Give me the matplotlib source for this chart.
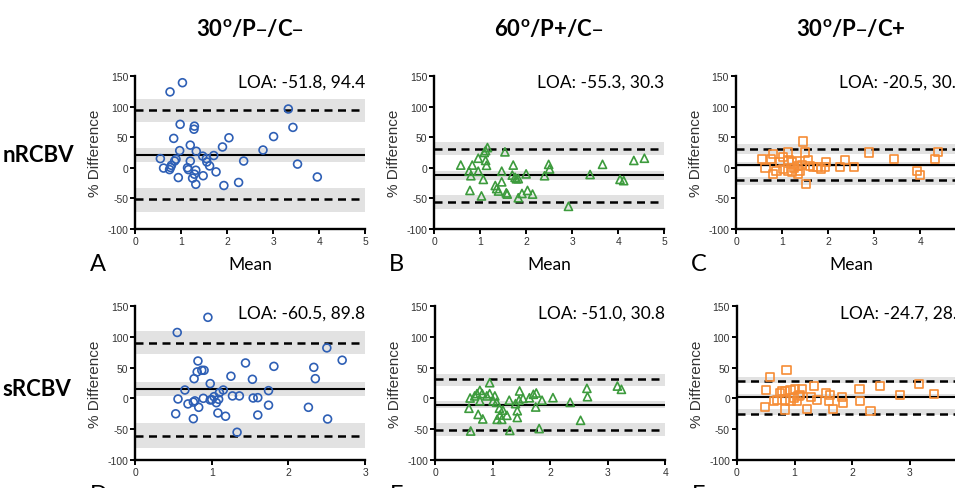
import numpy as np
import matplotlib.pyplot as plt

plt.rcParams['axes.unicode_minus'] = False

# column / row headings
col_titles = ['30$^{\\mathregular{o}}$/P–/C–', '60$^{\\mathregular{o}}$/P+/C–', '30$^{\\mathregular{o}}$/P–/C+']
row_titles = ['nRCBV', 'sRCBV']
letters = ['A', 'B', 'C', 'D', 'E', 'F']

# A: nRCBV 30/P-/C-
a_x = [1.03, 0.76, 3.33, 3.43, 0.98, 1.29, 1.28, 0.84, 2.04, 3.01, 1.20, 1.90, 0.97, 1.33, 2.78,
       0.55, 0.89, 0.86, 1.20, 1.47, 1.55, 1.71, 1.56, 1.62, 2.36, 3.53, 0.62, 0.75, 0.77, 1.14,
       1.16, 1.32, 1.29, 1.48, 1.76, 0.94, 1.25, 1.32, 1.93, 2.25, 3.96, 0.79]
a_y = [139, 124, 96, 66, 71, 68, 63, 48, 49, 51, 37, 34, 28, 27, 29,
       15, 14, 11, 11, 19, 15, 20, 9.5, 3, 11, 6, -0.5, -3, 0.5, 0,
       -3, -4, -10.5, -13, -6.7, -16, -17, -27, -29, -24, -15, 4]
a_loa = [-51.8, 94.4]
a_bands = [(75, 113), (9.5, 32), (-33, -72)]

# B: nRCBV 60/P+/C-
b_x = [0.58, 0.83, 0.96, 1.09, 1.16, 1.12, 1.12, 1.14, 1.54, 0.76, 0.80, 0.96, 1.07, 1.47, 1.72,
       1.70, 1.76, 1.83, 2.00, 2.49, 2.51, 2.40, 0.78, 1.03, 1.33, 1.36, 1.47, 1.40, 1.57, 1.59,
       1.83, 1.91, 2.03, 2.14, 2.92, 3.39, 3.66, 4.04, 4.12, 4.34, 4.57, 1.79]
b_y = [4.4, 4.4, 15.6, 25, 33, 28, 12, 4, 26, -5.6, -13, -5.6, -19, -5.6, 4.4,
       -12, -15.6, -17.8, -10, 5.5, -2, -13, -37, -46, -29, -34, -23, -38, -41, -43,
       -49, -42, -37, -43, -63, -11, 5.6, -19, -21, 12, 15.6, -18]
b_loa = [-55.3, 30.3]
b_bands = [(21, 42), (-4.5, -19.5), (-45, -67)]

# C: nRCBV 30/P-/C+
c_x = [1.45, 0.57, 0.80, 0.76, 0.64, 0.80, 0.96, 1.03, 1.12, 1.14, 1.21, 1.03, 1.12, 1.21, 1.26,
       1.35, 1.39, 1.50, 1.57, 1.61, 1.68, 1.77, 1.84, 1.93, 1.96, 1.52, 2.25, 2.37, 2.57, 2.88,
       3.43, 3.94, 3.99, 4.32, 4.38, 1.35, 0.88, 1.32, 1.43]
c_y = [43, 14, 22, 15, -0.4, -10, 9, 17, 25, 13, 9, -2, -6, -7.5, -1,
       3.4, -4.8, 25, 13, 3.4, 0.6, 0.6, -2, 0.6, 10, -26, 0.6, 13, 0.6, 25,
       14, -4.8, -12, 14, 26, -10, -4.8, 11, 4]
c_loa = [-20.5, 30.9]
c_bands = [(22, 38.5), (1.7, 8.8), (-14.5, -27.5)]

# D: sRCBV 30/P-/C-
d_x = [0.95, 0.55, 2.50, 2.70, 0.82, 1.44, 1.81, 2.33, 0.81, 0.87, 0.90, 0.77, 1.25, 1.53, 2.35,
       0.98, 0.65, 1.15, 1.74, 1.10, 0.56, 0.89, 0.98, 1.03, 1.09, 1.27, 1.36, 1.54, 1.60, 0.69,
       0.78, 0.76, 0.83, 1.06, 1.74, 0.53, 0.76, 1.08, 1.18, 1.60, 2.26, 2.51, 1.33, 1.00]
d_y = [131.6, 107, 82, 62, 60.7, 57.5, 52, 50.4, 43, 45.6, 45.6, 32, 36, 31, 32,
       24, 13.6, 13.6, 12.6, 9.3, -1, 0.1, -2.6, 2.8, -1.5, 4, 4, 0.6, 1.2, -9,
       -4, -6, -14.5, -7, -11, -25, -33, -23.7, -29, -27, -14.5, -33.5, -55, -2]
d_loa = [-60.5, 89.8]
d_bands = [(71.5, 109), (4, 26.6), (-40, -80)]

# E: sRCBV 60/P+/C-
e_x = [0.95, 0.61, 0.59, 0.62, 0.69, 0.73, 0.78, 0.82, 0.78, 0.90, 0.95, 1.04, 1.01, 1.07, 1.12,
       1.18, 1.25, 1.13, 1.08, 1.16, 0.75, 0.83, 1.30, 1.43, 1.43, 1.40, 1.46, 1.47, 1.53, 1.64,
       1.71, 1.76, 1.75, 1.86, 2.05, 1.81, 2.35, 2.53, 2.64, 2.65, 3.17, 3.24, 1.29]
e_y = [25.5, 0.6, -16, -53, 4, 7.7, 13, 7.7, -4, 4, 7.7, 4, -4, -6.4, -16,
       -19, -27.5, -27, -34, -34, -26, -33.4, -52, -31, -20, -8.5, -3, 12, 0, 1,
       6.6, 8.8, -14, -3, 1.2, -49, -6.4, -35.6, 16.3, 2.8, 20, 14.7, -3]
e_loa = [-51.0, 30.8]
e_bands = [(20, 40), (-4, -15), (-40.5, -61)]

# F: sRCBV 30/P-/C+
f_x = [0.86, 0.58, 0.50, 0.48, 0.64, 0.70, 0.78, 0.84, 0.93, 1.01, 1.13, 0.84, 0.93, 1.04, 1.07,
       0.84, 1.21, 1.34, 1.28, 1.39, 1.54, 1.61, 1.60, 1.67, 1.83, 1.84, 2.13, 2.14, 2.32, 2.48,
       2.84, 3.16, 3.43, 0.75, 0.99, 1.10]
f_y = [45.6, 34, 14, -14.5, -4.8, -2.6, 11.5, 12.6, 14, 15.8, 15.8, -2, -4.8, -3.7, 3.4,
       -18, -17.7, 19.6, 1.7, -2, 8.8, 6, -4.8, -16.7, 1.7, -7.5, 15.3, -3.7, -20, 20,
       5, 24, 7.7, 8.8, 0.6, 6]
f_loa = [-24.7, 28.9]
f_bands = [(25, 34), (0.6, 7), (-18, -27.5)]

x_max = [5, 5, 5, 3, 4, 4]
markers = ['o', '^', 's']
colors = ['#2e5fb5', '#3d9b3d', '#f68c35']

panels = [(a_x, a_y, a_loa, a_bands), (b_x, b_y, b_loa, b_bands), (c_x, c_y, c_loa, c_bands),
          (d_x, d_y, d_loa, d_bands), (e_x, e_y, e_loa, e_bands), (f_x, f_y, f_loa, f_bands)]

fig = plt.figure(figsize=(9.55, 4.89), dpi=100)

lefts = [[0.1414, 0.4545, 0.7707], [0.1414, 0.4555, 0.7717]]
bottoms = [0.5297, 0.0573]
heights = [0.3129, 0.3149]
W = 0.241
head_font = 'Lato'

for i, (px, py, loa, bands) in enumerate(panels):
    r, c = divmod(i, 3)
    ax = fig.add_axes([lefts[r][c], bottoms[r], W, heights[r]])
    for lo, hi in bands:
        ax.axhspan(lo, hi, color='#e2e2e2', lw=0, zorder=0)
    ax.axhline(loa[0], color='black', lw=1.8, ls=(0, (3.2, 2.2)), zorder=1)
    ax.axhline(loa[1], color='black', lw=1.8, ls=(0, (3.2, 2.2)), zorder=1)
    ax.axhline(np.mean(loa), color='black', lw=1.5, zorder=1)
    ms = 32 if markers[c] == 'o' else 34
    ax.scatter(px, py, marker=markers[c], s=ms, facecolors='none', edgecolors=colors[c],
               linewidths=1.2, zorder=3, clip_on=False)
    ax.set_xlim(0, x_max[i])
    ax.set_ylim(-100, 150)
    ax.set_yticks([-100, -50, 0, 50, 100, 150])
    ax.set_xticks(range(x_max[i] + 1))
    for s in ['top', 'right']:
        ax.spines[s].set_visible(False)
    for s in ['left', 'bottom']:
        ax.spines[s].set_linewidth(1.7)
    ax.tick_params(direction='out', length=3.5, width=1.4, labelsize=7.5,
                   labelcolor='#333333', pad=1.5)
    for lab in ax.get_xticklabels() + ax.get_yticklabels():
        lab.set_family('Liberation Sans')
    ax.set_ylabel('% Difference', fontsize=11, family='Liberation Sans', color='#333333')
    ax.yaxis.set_label_coords(-0.145, 0.5)
    ax.text(1.0, 140, 'LOA: %.1f, %.1f' % (loa[0], loa[1]), transform=ax.get_yaxis_transform(),
            ha='right', va='center', fontsize=12.5, family=head_font)
    ax.set_xlabel('Mean', fontsize=12.5, family=head_font, labelpad=7)
    # panel letter
    fig.text(lefts[r][c] - 0.047, bottoms[r] - 0.07, letters[i], fontsize=17,
             family=head_font, va='center', ha='left')
    if r == 0:
        fig.text(lefts[r][c] + W / 2, 0.941, col_titles[c], fontsize=16, fontweight='bold',
                 family=head_font, ha='center', va='center')

fig.text(0.003, 0.683, row_titles[0], fontsize=16, fontweight='bold', family=head_font, va='center')
fig.text(0.003, 0.2025, row_titles[1], fontsize=16, fontweight='bold', family=head_font, va='center')

fig.savefig('out.png', dpi=100)
